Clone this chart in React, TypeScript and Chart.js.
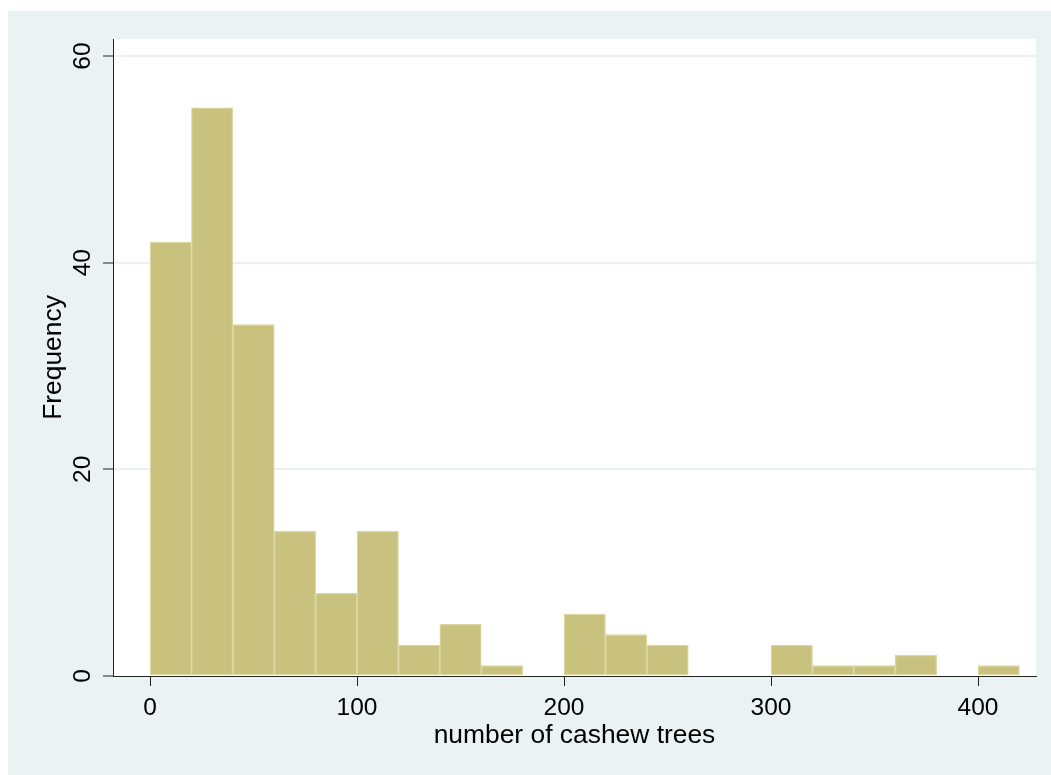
import React, { useEffect, useRef } from "react";
import { Chart, registerables } from "chart.js";

Chart.register(...registerables);

// Histogram data: bin start (number of cashew trees), bin width 20
const binStart = [0, 20, 40, 60, 80, 100, 120, 140, 160, 180, 200, 220, 240, 260, 280, 300, 320, 340, 360, 380, 400];
const binWidth = 20;
const frequency = [42, 55, 34, 14, 8, 14, 3, 5, 1, 0, 6, 4, 3, 0, 0, 3, 1, 1, 2, 0, 1];

const xTicks = [0, 100, 200, 300, 400];
const yTicks = [0, 20, 40, 60];
const xTitle = "number of cashew trees";
const yTitle = "Frequency";

const BG = "#EAF2F3";
const FONT = '"Liberation Sans", Arial, Helvetica, sans-serif';

export default function App() {
  const ref = useRef<HTMLCanvasElement | null>(null);

  useEffect(() => {
    document.body.style.overflow = "hidden";
    const canvas = ref.current!;
    const data = binStart
      .map((s, i) => ({ x: s + binWidth / 2, y: frequency[i] }))
      .filter((d) => d.y > 0);

    const bgPlugin = {
      id: "bg",
      beforeDraw(chart: any) {
        const { ctx, chartArea: a } = chart;
        ctx.save();
        ctx.fillStyle = BG;
        ctx.fillRect(0, 0, chart.width, chart.height);
        ctx.fillStyle = "#FFFFFF";
        ctx.fillRect(a.left, a.top, a.right - a.left, a.bottom - a.top);
        ctx.restore();
      },
    };

    const textPlugin = {
      id: "texts",
      afterDraw(chart: any) {
        const { ctx, chartArea: a } = chart;
        const xs = chart.scales.x;
        const ys = chart.scales.y;
        ctx.save();
        ctx.fillStyle = "#000";
        ctx.font = `24.5px ${FONT}`;
        ctx.textAlign = "center";
        ctx.textBaseline = "alphabetic";
        xTicks.forEach((v) => {
          ctx.fillText(String(v), xs.getPixelForValue(v), 704);
        });
        yTicks.forEach((v) => {
          ctx.save();
          ctx.translate(82, ys.getPixelForValue(v));
          ctx.rotate(-Math.PI / 2);
          ctx.fillText(String(v), 0, 0);
          ctx.restore();
        });
        ctx.font = `26.4px ${FONT}`;
        ctx.fillText(xTitle, (a.left + a.right) / 2, 732);
        ctx.save();
        ctx.translate(53, (a.top + a.bottom) / 2);
        ctx.rotate(-Math.PI / 2);
        ctx.fillText(yTitle, 0, 0);
        ctx.restore();
        ctx.restore();
      },
    };

    const chart = new Chart(canvas, {
      type: "bar",
      data: {
        datasets: [
          {
            data,
            backgroundColor: "#C9C27E",
            borderColor: "#DCD6A2",
            borderWidth: 1.3,
            borderSkipped: false,
            barPercentage: 1,
            categoryPercentage: 1,
          },
        ],
      },
      options: {
        animation: false,
        responsive: false,
        devicePixelRatio: 1,
        layout: { padding: { left: 0, top: 28, right: 15, bottom: 0 } },
        plugins: { legend: { display: false }, tooltip: { enabled: false } },
        scales: {
          x: {
            type: "linear",
            min: -17.9,
            max: 428,
            offset: false,
            z: 1,
            afterBuildTicks: (s: any) => {
              s.ticks = xTicks.map((v) => ({ value: v }));
            },
            afterFit: (s: any) => {
              s.height = 99;
            },
            ticks: { display: false },
            grid: {
              display: true,
              offset: false,
              drawOnChartArea: false,
              drawTicks: true,
              tickLength: 10,
              tickColor: "#222",
              tickWidth: 1,
            },
            border: { display: true, color: "#222", width: 1 },
          },
          y: {
            type: "linear",
            min: 0,
            max: 61.65,
            afterBuildTicks: (s: any) => {
              s.ticks = yTicks.map((v) => ({ value: v }));
            },
            afterFit: (s: any) => {
              s.width = 105;
            },
            ticks: { display: false },
            grid: {
              display: true,
              drawOnChartArea: true,
              drawTicks: true,
              tickLength: 10,
              color: (c: any) => (c.tick && c.tick.value === 0 ? "rgba(0,0,0,0)" : BG),
              lineWidth: 2,
              tickColor: "#222",
              tickWidth: 1,
            },
            border: { display: true, color: "#222", width: 1 },
          },
        },
      },
      plugins: [bgPlugin, textPlugin],
    });
    return () => chart.destroy();
  }, []);

  return (
    <div style={{ position: "absolute", left: 8, top: 11, width: 1043, height: 764 }}>
      <canvas ref={ref} width={1043} height={764} style={{ display: "block" }} />
    </div>
  );
}
